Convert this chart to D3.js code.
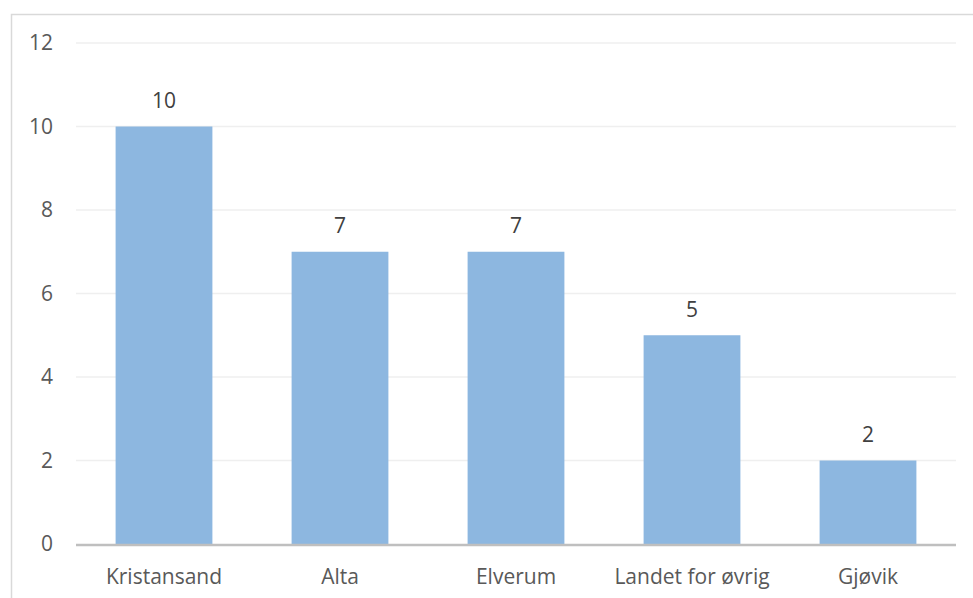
<!DOCTYPE html>
<html>
<head>
<meta charset="utf-8">
<script src="https://cdn.jsdelivr.net/npm/d3@7"></script>
<style>
  html, body { margin: 0; padding: 0; background: #fff; }
  svg { display: block; }
  text { font-family: "Open Sans", "Liberation Sans", sans-serif; fill: #595959; }
  text.value { fill: #404040; }
</style>
</head>
<body>
<svg id="chart" width="973" height="598"></svg>
<script>
const categories = ["Kristansand", "Alta", "Elverum", "Landet for øvrig", "Gjøvik"];
const values = [10, 7, 7, 5, 2];
const yTicks = [0, 2, 4, 6, 8, 10, 12];

const svg = d3.select("#chart");
const W = 973, H = 598;
const FS = 21;

// chart area frame (top and left edges visible)
svg.append("path")
  .attr("d", `M11.5,${H} V14.5 H${W}`)
  .attr("fill", "none")
  .attr("stroke", "#d9d9d9")
  .attr("stroke-width", 1.5);

const plot = { left: 76, right: 956, top: 43, bottom: 544 };

const x = d3.scaleBand()
  .domain(categories)
  .range([plot.left, plot.right])
  .paddingInner(0.45)
  .paddingOuter(0.225);

const y = d3.scaleLinear()
  .domain([0, 12])
  .range([plot.bottom, plot.top]);

// horizontal gridlines
svg.append("g")
  .selectAll("line")
  .data(yTicks.filter(d => d > 0))
  .join("line")
  .attr("x1", plot.left)
  .attr("x2", plot.right)
  .attr("y1", d => y(d))
  .attr("y2", d => y(d))
  .attr("stroke", "#efefef")
  .attr("stroke-width", 1.5);

// y tick labels
svg.append("g")
  .selectAll("text")
  .data(yTicks)
  .join("text")
  .attr("x", 53)
  .attr("y", d => y(d))
  .attr("dy", "0.35em")
  .attr("text-anchor", "end")
  .attr("font-size", FS)
  .text(d => d);

// bars
svg.append("g")
  .selectAll("rect")
  .data(values)
  .join("rect")
  .attr("x", (d, i) => x(categories[i]))
  .attr("width", x.bandwidth())
  .attr("y", d => y(d))
  .attr("height", d => y(0) - y(d))
  .attr("fill", "#8db7e0");

// value labels
svg.append("g")
  .selectAll("text")
  .data(values)
  .join("text")
  .attr("class", "value")
  .attr("x", (d, i) => x(categories[i]) + x.bandwidth() / 2)
  .attr("y", d => y(d) - 26)
  .attr("dy", "0.35em")
  .attr("text-anchor", "middle")
  .attr("font-size", FS)
  .text(d => d);

// baseline axis
svg.append("line")
  .attr("x1", plot.left)
  .attr("x2", plot.right)
  .attr("y1", y(0) + 1)
  .attr("y2", y(0) + 1)
  .attr("stroke", "#bfbfbf")
  .attr("stroke-width", 2.5);

// category labels
svg.append("g")
  .selectAll("text")
  .data(categories)
  .join("text")
  .attr("x", d => x(d) + x.bandwidth() / 2)
  .attr("y", 577)
  .attr("dy", "0.35em")
  .attr("text-anchor", "middle")
  .attr("font-size", FS)
  .text(d => d);
</script>
</body>
</html>
